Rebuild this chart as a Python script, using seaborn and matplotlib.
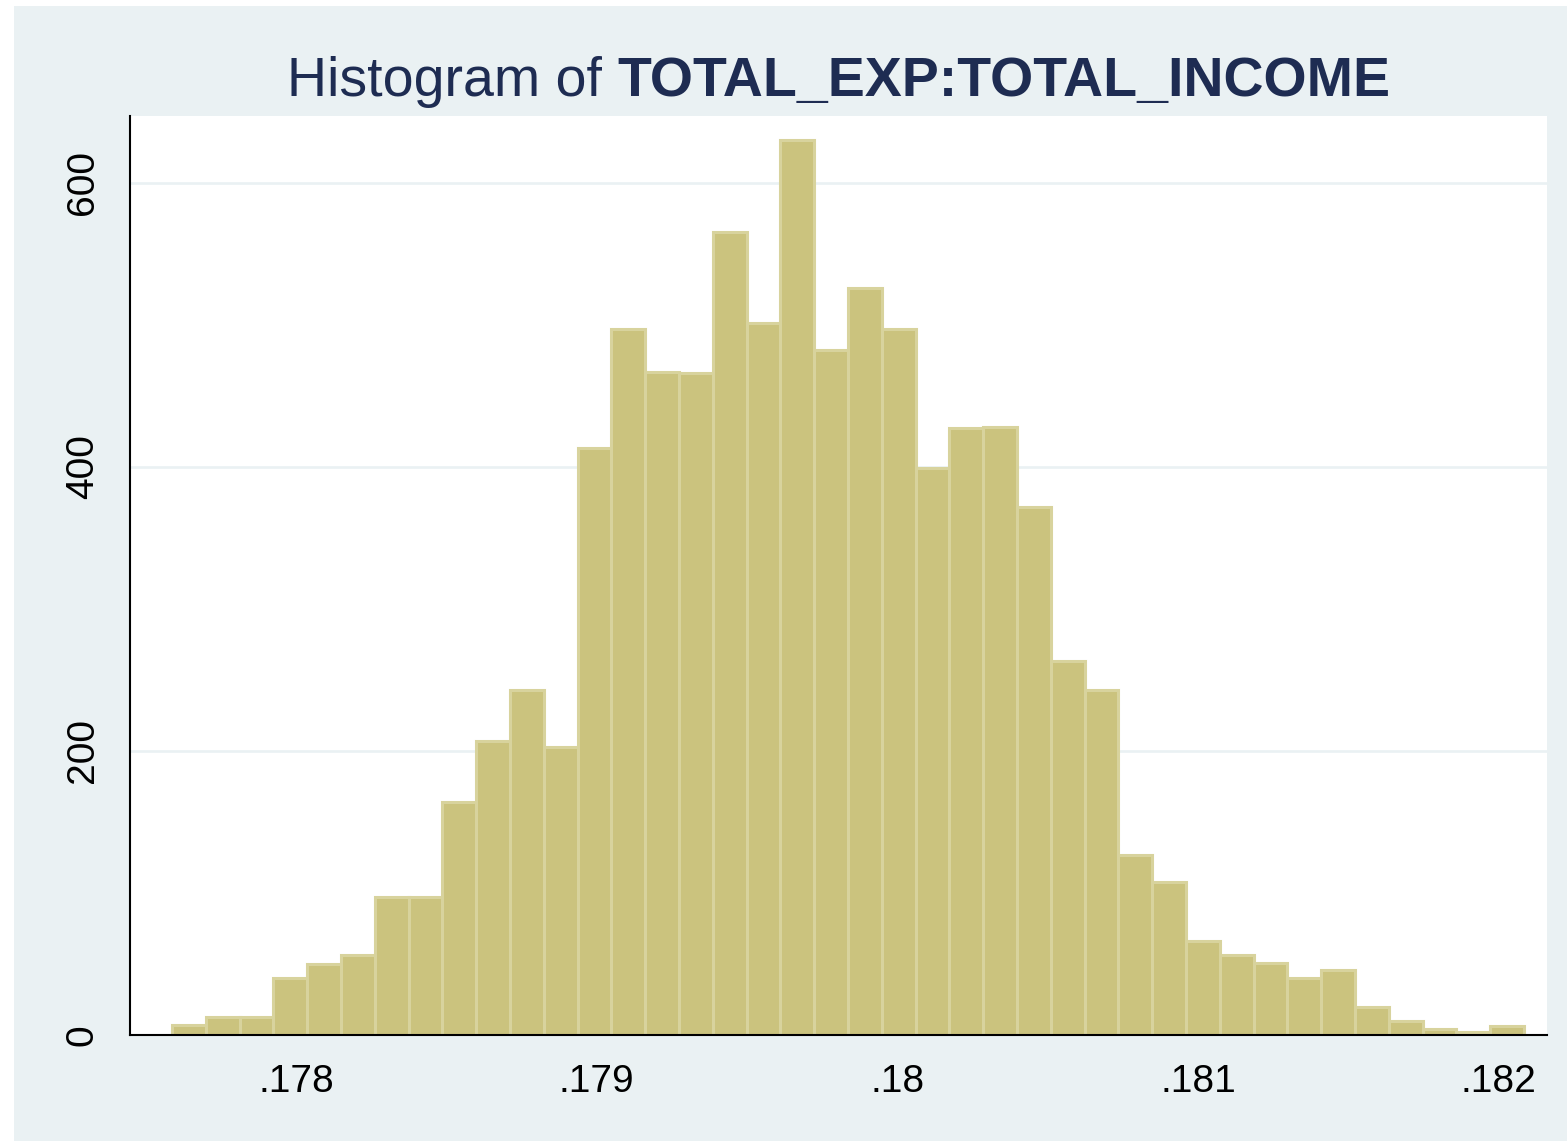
import numpy as np
import pandas as pd
import matplotlib
matplotlib.use("Agg")
import matplotlib.pyplot as plt
import seaborn as sns
from matplotlib.patches import Rectangle

# --- data ---
bin_start = 0.1775876
bin_width = 0.0001124
counts = [7, 13, 13, 40, 50, 56, 97, 97, 164, 207,
          243, 203, 413, 497, 467, 466, 565, 501, 630, 482,
          526, 497, 399, 427, 428, 372, 263, 243, 127, 108,
          66, 56, 51, 40, 46, 20, 10, 4, 2, 6]
x_ticks = [0.178, 0.179, 0.180, 0.181, 0.182]
x_tick_labels = [".178", ".179", ".18", ".181", ".182"]
y_ticks = [0, 200, 400, 600]
y_tick_labels = ["0", "200", "400", "600"]
title_plain = "Histogram of"
title_bold = "TOTAL_EXP:TOTAL_INCOME"

# --- colours (Stata s2color look) ---
bg_color = "#eaf1f3"
fill_color = "#cbc37e"
edge_color = "#d8d39d"
title_color = "#1e2c52"

sns.set_theme(style="white")
plt.rcParams["font.family"] = ["Liberation Sans", "DejaVu Sans"]

W, H = 1567, 1141
fig = plt.figure(figsize=(W / 100, H / 100), dpi=100, facecolor="white")
fig.patches.append(Rectangle((14 / W, 0), 1 - 14 / W, 1 - 6 / H,
                             transform=fig.transFigure, facecolor=bg_color,
                             edgecolor="none", zorder=-10))

ax = fig.add_axes([130 / W, 1 - 1035 / H, (1547 - 130) / W, (1035 - 116) / H])
ax.set_facecolor("white")

n = len(counts)
edges = [bin_start + bin_width * i for i in range(n + 1)]
df = pd.DataFrame({"x": [(edges[i] + edges[i + 1]) / 2 for i in range(n)],
                   "count": counts})

sns.histplot(data=df, x="x", weights="count", bins=edges, ax=ax,
             color=fill_color, edgecolor=edge_color, linewidth=2.2, alpha=1)

ax.set_xlim(0.177448, 0.182160)
ax.set_ylim(0, 647)
ax.set_xticks(x_ticks)
ax.set_xticklabels(x_tick_labels)
ax.set_yticks(y_ticks)
ax.set_yticklabels(y_tick_labels, rotation=90, va="center")
ax.set_xlabel("")
ax.set_ylabel("")

ax.yaxis.grid(True, color=bg_color, linewidth=1.9)
ax.xaxis.grid(False)
ax.set_axisbelow(True)

for side in ["top", "right"]:
    ax.spines[side].set_visible(False)
for side in ["left", "bottom"]:
    ax.spines[side].set_color("black")
    ax.spines[side].set_linewidth(1.5)
ax.tick_params(axis="both", direction="out", length=10, width=1.5,
               color="black", labelsize=28, labelcolor="black", pad=11)

# --- title: plain + bold parts, centred over the plot area ---
y_base = 1 - 96 / H
t1 = fig.text(0, y_base, title_plain, fontsize=40, color=title_color,
              va="baseline", ha="left")
t2 = fig.text(0, y_base, title_bold, fontsize=40, color=title_color,
              fontweight="bold", va="baseline", ha="left")
fig.canvas.draw()
renderer = fig.canvas.get_renderer()
w1 = t1.get_window_extent(renderer).width
w2 = t2.get_window_extent(renderer).width
gap = 16
cx = (130 + 1547) / 2
x0 = cx - (w1 + gap + w2) / 2
t1.set_x(x0 / W)
t2.set_x((x0 + w1 + gap) / W)

fig.savefig("out.png", dpi=100, facecolor=fig.get_facecolor())
